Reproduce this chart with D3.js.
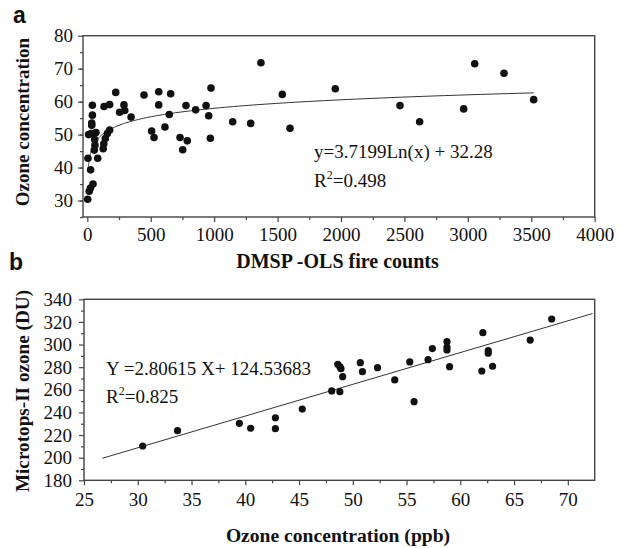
<!DOCTYPE html>
<html><head><meta charset="utf-8">
<script src="https://cdn.jsdelivr.net/npm/d3@7"></script>
<style>
body{margin:0;background:#fff;}
svg{display:block;}
text{font-family:"Liberation Serif","Times New Roman",serif;fill:#111;}
</style></head>
<body><svg id="c" width="622" height="548"></svg>
<script>
// Panel a: DMSP-OLS fire counts vs ozone concentration
const fireCounts = [3,15,25,45,26,5,82,10,30,68,35,35,40,40,58,60,55,52,
  125,130,142,158,176,132,176,224,255,289,295,345,447,507,526,563,563,612,657,646,
  731,752,778,788,854,936,957,970,975,1146,1288,1369,1537,1598,1955,2465,2620,2967,3054,3285,3519];
const ozoneA = [30.4,32.8,33.8,35,39.3,42.8,42.8,50.0,50.3,50.6,52.8,53.5,55.9,58.9,48.5,46.8,45.3,50.3,
  45.7,47.2,48.8,50.3,51.4,58.5,59.1,62.8,56.8,59,57.3,55.3,62,51.1,49.1,63,59,52.3,62.4,56.1,
  49.1,45.4,58.8,48.1,57.5,58.8,55.7,48.9,64.1,53.9,53.4,71.8,62.2,51.9,63.9,58.8,53.9,57.8,71.5,68.6,60.6];
const xTicksA = [0,500,1000,1500,2000,2500,3000,3500,4000];
const yTicksA = [30,40,50,60,70,80];
const fitA = {a:3.7199, b:32.28, xmin:6, xmax:3520};

// Panel b: ozone concentration vs Microtops-II ozone
const ozoneB = [30.46,33.7,39.45,40.5,42.8,42.8,45.3,48.04,48.8,48.6,48.8,48.9,49.06,50.7,50.9,52.3,53.9,55.3,55.7,
  57.0,57.4,58.76,58.76,58.76,59.0,62.0,62.1,62.6,62.6,63.0,66.5,68.5];
const microtops = [210.3,223.9,230.4,226,235.3,225.6,243,259,258.3,282.6,280.4,278.7,271.6,284,276,279.6,268.7,284.6,249.5,
  286.6,296.4,302.5,297.6,295.2,280.4,276.6,310.5,294.6,292.3,280.8,304,322.6];
const xTicksB = [25,30,35,40,45,50,55,60,65,70];
const yTicksB = [180,200,220,240,260,280,300,320,340];
const fitB = {m:2.80615, c:124.53683, xmin:26.7, xmax:72.3};

const svg = d3.select("#c");
const axisColor = "#444";

function styleAxis(g){
  g.select(".domain").remove();
  g.selectAll(".tick line").attr("stroke", axisColor).attr("stroke-width",1.2);
  g.selectAll(".tick text").attr("font-size","19px").attr("fill","#111")
    .style("font-family",'"Liberation Serif","Times New Roman",serif');
}

function panel(cfg){
  const {x,y,xTicks,yTicks,xMinor,yMinor,xs,ys,r,fitPts,xPad,yPad} = cfg;
  const [x0,x1] = x.range(); const [y0,y1] = y.range();
  const g = svg.append("g");
  const gxm = g.append("g").attr("transform",`translate(0,${y0})`)
    .call(d3.axisBottom(x).tickValues(xMinor).tickSize(3).tickFormat(""));
  styleAxis(gxm);
  const gym = g.append("g").attr("transform",`translate(${x0},0)`)
    .call(d3.axisLeft(y).tickValues(yMinor).tickSize(3).tickFormat(""));
  styleAxis(gym);
  const gx = g.append("g").attr("transform",`translate(0,${y0})`)
    .call(d3.axisBottom(x).tickValues(xTicks).tickSize(5).tickPadding(xPad).tickFormat(d3.format("d")));
  styleAxis(gx);
  const gy = g.append("g").attr("transform",`translate(${x0},0)`)
    .call(d3.axisLeft(y).tickValues(yTicks).tickSize(5).tickPadding(yPad).tickFormat(d3.format("d")));
  styleAxis(gy);
  g.append("rect").attr("x",x0).attr("y",y1).attr("width",x1-x0).attr("height",y0-y1)
    .attr("fill","none").attr("stroke",axisColor).attr("stroke-width",1.4);
  g.append("path").datum(fitPts)
    .attr("d", d3.line().x(d=>x(d[0])).y(d=>y(d[1])))
    .attr("fill","none").attr("stroke","#333").attr("stroke-width",1);
  g.selectAll("circle.pt").data(xs.map((v,i)=>[v,ys[i]])).join("circle")
    .attr("class","pt").attr("cx",d=>x(d[0])).attr("cy",d=>y(d[1])).attr("r",r).attr("fill","#111");
  return g;
}

// ---- Panel a ----
const xA = d3.scaleLinear().domain([-34,4000]).range([83,594.7]);
const yA = d3.scaleLinear().domain([25,80]).range([217,35.7]);
const fitAPts = d3.range(0,201).map(i=>{
  const xv = fitA.xmin*Math.pow(fitA.xmax/fitA.xmin, i/200);
  return [xv, fitA.a*Math.log(xv)+fitA.b];
});
panel({x:xA,y:yA,xTicks:xTicksA,yTicks:yTicksA,
  xMinor:d3.range(250,4000,500), yMinor:d3.range(25,80,5),
  xs:fireCounts, ys:ozoneA, r:3.8, fitPts:fitAPts, xPad:5.5, yPad:5});

// ---- Panel b ----
const xB = d3.scaleLinear().domain([25,72.5]).range([84,594.7]);
const yB = d3.scaleLinear().domain([180,340]).range([480.3,299.3]);
const fitBPts = [[fitB.xmin, fitB.m*fitB.xmin+fitB.c],[fitB.xmax, fitB.m*fitB.xmax+fitB.c]];
panel({x:xB,y:yB,xTicks:xTicksB,yTicks:yTicksB,
  xMinor:d3.range(27.5,72.5,5), yMinor:d3.range(190,340,20),
  xs:ozoneB, ys:microtops, r:3.6, fitPts:fitBPts, xPad:7, yPad:7});

// ---- texts ----
function txt(x,y,s,attrs){ const t=svg.append("text").attr("x",x).attr("y",y).text(s);
  for(const k in attrs) t.attr(k,attrs[k]); return t; }

txt(0,0,"Ozone concentration",{"font-weight":"bold","font-size":"19px","text-anchor":"middle",transform:"translate(29,122) rotate(-90)"});
txt(337.5,268,"DMSP -OLS fire counts",{"font-weight":"bold","font-size":"20px","text-anchor":"middle"});
txt(0,0,"Microtops-II ozone (DU)",{"font-weight":"bold","font-size":"19.2px","text-anchor":"middle",transform:"translate(29,391) rotate(-90)"});
txt(338,541.5,"Ozone concentration (ppb)",{"font-weight":"bold","font-size":"19.6px","text-anchor":"middle"});

txt(13,23,"a",{"font-weight":"bold","font-size":"23px"}).style("font-family",'"Liberation Sans",Arial,sans-serif');
txt(9,270,"b",{"font-weight":"bold","font-size":"23px"}).style("font-family",'"Liberation Sans",Arial,sans-serif');

txt(314,158,"y=3.7199Ln(x) + 32.28",{"font-size":"19px"});
const r2a = txt(314,186.5,"R",{"font-size":"19px"});
r2a.append("tspan").attr("dy",-8).attr("font-size","12px").text("2");
r2a.append("tspan").attr("dy",8).text("=0.498");

txt(106,375,"Y =2.80615 X+ 124.53683",{"font-size":"19px"});
const r2b = txt(106,403,"R",{"font-size":"19px"});
r2b.append("tspan").attr("dy",-8).attr("font-size","12px").text("2");
r2b.append("tspan").attr("dy",8).text("=0.825");
</script></body></html>
